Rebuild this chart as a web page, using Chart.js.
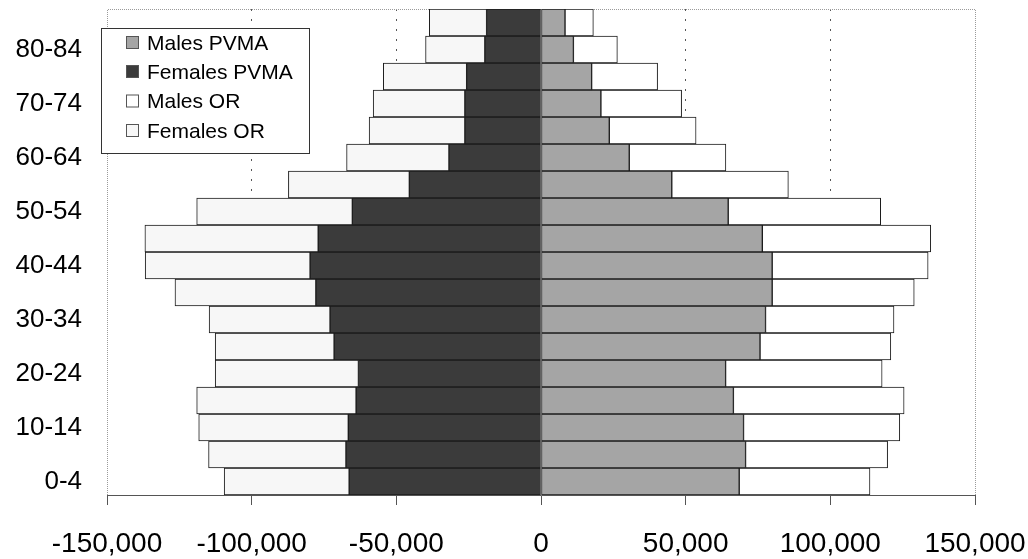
<!DOCTYPE html>
<html>
<head>
<meta charset="utf-8">
<script src="https://cdn.jsdelivr.net/npm/chart.js@4/dist/chart.umd.min.js"></script>
<style>
  html, body { margin: 0; padding: 0; background: #ffffff; }
  #wrap { width: 1028px; height: 559px; position: relative; }
</style>
</head>
<body>
<div id="wrap"><canvas id="pyramid" width="1028" height="559"></canvas></div>
<script>
// Age groups, youngest first
const ageGroups = ['0-4', '5-9', '10-14', '15-19', '20-24', '25-29', '30-34', '35-39', '40-44',
                   '45-49', '50-54', '55-59', '60-64', '65-69', '70-74', '75-79', '80-84', '85+'];

// Population counts per age group (females plotted to the left as negatives)
const malesPVMA   = [68500, 70700, 70000, 66500, 63800, 75700, 77600, 79900, 79900, 76500, 64700, 45200, 30500, 23600, 20700, 17500, 11200, 8300];
const femalesPVMA = [-66300, -67400, -66600, -63900, -63100, -71500, -72900, -77800, -79800, -77000, -65200, -45500, -31800, -26300, -26300, -25700, -19400, -18800];
const malesOR     = [45200, 49100, 54000, 59000, 54100, 45200, 44400, 49100, 53900, 58200, 52700, 40300, 33400, 30000, 27900, 22800, 15200, 9800];
const femalesOR   = [-43200, -47500, -51700, -55100, -49500, -41100, -41800, -48700, -57000, -59900, -53800, -41800, -35400, -33100, -31700, -28800, -20500, -19800];

// Axis ticks
const xTicks = [-150000, -100000, -50000, 0, 50000, 100000, 150000];

const FONT = '"Liberation Sans", Arial, sans-serif';

const seriesStyle = [
  { label: 'Males PVMA',   data: malesPVMA,   bg: '#a5a5a5' },
  { label: 'Females PVMA', data: femalesPVMA, bg: '#3b3b3b' },
  { label: 'Males OR',     data: malesOR,     bg: '#ffffff' },
  { label: 'Females OR',   data: femalesOR,   bg: '#f7f7f7' }
];

// Dotted frame around the plot area (top, left, right)
const plotFrame = {
  id: 'plotFrame',
  beforeDatasetsDraw(chart) {
    const { ctx, chartArea: a } = chart;
    ctx.save();
    ctx.strokeStyle = '#9a9a9a';
    ctx.lineWidth = 1;
    ctx.setLineDash([1, 1]);
    ctx.beginPath();
    ctx.moveTo(Math.round(a.left) + 0.5, Math.round(a.bottom));
    ctx.lineTo(Math.round(a.left) + 0.5, Math.round(a.top) + 0.5);
    ctx.lineTo(Math.round(a.right) + 0.5, Math.round(a.top) + 0.5);
    ctx.lineTo(Math.round(a.right) + 0.5, Math.round(a.bottom));
    ctx.stroke();
    ctx.restore();
  }
};

// Boxed legend floating in the upper-left corner of the plot
const boxLegend = {
  id: 'boxLegend',
  afterDatasetsDraw(chart) {
    const { ctx } = chart;
    const bx = 101.5, by = 28.5, bw = 208, bh = 125;
    ctx.save();
    ctx.setLineDash([]);
    ctx.fillStyle = '#ffffff';
    ctx.fillRect(bx, by, bw, bh);
    ctx.strokeStyle = '#333333';
    ctx.lineWidth = 1;
    ctx.strokeRect(bx, by, bw, bh);
    ctx.font = '21px ' + FONT;
    ctx.textBaseline = 'middle';
    ctx.textAlign = 'left';
    const rows = [43, 72, 101.5, 131];
    chart.data.datasets.forEach((ds, i) => {
      const cy = rows[i];
      ctx.fillStyle = ds.backgroundColor;
      ctx.fillRect(126.5, cy - 6.5, 12, 12);
      ctx.strokeStyle = '#555555';
      ctx.strokeRect(126.5, cy - 6.5, 12, 12);
      ctx.fillStyle = '#000000';
      ctx.fillText(ds.label, 147, cy + 1);
    });
    ctx.restore();
  }
};

new Chart(document.getElementById('pyramid'), {
  type: 'bar',
  data: {
    labels: ageGroups,
    datasets: seriesStyle.map(s => ({
      label: s.label,
      data: s.data,
      backgroundColor: s.bg,
      borderColor: '#1c1c1c',
      borderWidth: 1,
      borderSkipped: false,
      barPercentage: 1,
      categoryPercentage: 1
    }))
  },
  options: {
    indexAxis: 'y',
    responsive: false,
    animation: false,
    devicePixelRatio: 1,
    layout: { padding: { left: 0, right: 53, top: 9, bottom: 0 } },
    plugins: {
      legend: { display: false },
      tooltip: { enabled: false }
    },
    scales: {
      x: {
        stacked: true,
        min: -150000,
        max: 150000,
        afterBuildTicks(scale) { scale.ticks = xTicks.map(v => ({ value: v })); },
        afterFit(scale) {
          scale.height = 64;
          scale.paddingLeft = 0;
          scale.paddingRight = 0;
        },
        border: { display: true, color: '#555555', width: 1, dash: [2, 8] },
        grid: {
          color: ctx => (ctx.tick && Math.abs(ctx.tick.value) % 150000 !== 0) ? '#555555' : 'rgba(0,0,0,0)',
          lineWidth: 1,
          drawTicks: true,
          tickLength: 10,
          tickColor: '#555555',
          tickBorderDash: [],
          tickWidth: 1
        },
        ticks: {
          color: '#000000',
          font: { family: FONT, size: 28 },
          padding: 22,
          maxRotation: 0,
          callback: v => v.toLocaleString('en-US')
        }
      },
      y: {
        stacked: true,
        reverse: true,
        afterFit(scale) {
          scale.width = 107;
          scale.paddingTop = 0;
          scale.paddingBottom = 0;
        },
        border: { display: false },
        grid: { display: false, drawTicks: false },
        ticks: {
          color: '#000000',
          font: { family: FONT, size: 26 },
          padding: 25,
          autoSkip: false,
          callback: (v, i) => (i % 2 === 0 ? ageGroups[i] : '')
        }
      }
    }
  },
  plugins: [plotFrame, boxLegend]
});
</script>
</body>
</html>
